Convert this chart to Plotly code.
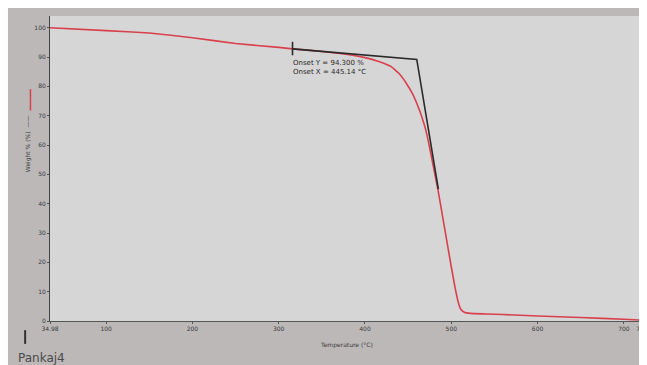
import plotly.graph_objects as go

# TGA curve
temp = [34.98, 100, 150, 200, 250, 300, 316, 350, 380, 400, 415, 430, 440, 448, 455, 461, 466,
        471, 476, 481, 485, 490, 495, 500, 504, 508, 511, 515, 522, 540, 560, 600, 650, 700, 721]
weight = [100, 99.0, 98.2, 96.6, 94.6, 93.3, 92.8, 91.9, 90.9, 89.8, 88.6, 86.8, 84.2, 81.0,
          77.5, 73.5, 69.5, 64.5, 57.5, 50.0, 44.0, 35.5, 27.0, 18.5, 12.0, 6.5, 4.0, 3.0, 2.6,
          2.4, 2.2, 1.7, 1.2, 0.6, 0.3]

# onset tangent construction
tan_x = [316, 460, 485]
tan_y = [92.8, 89.2, 45.0]
mark_x = [316, 316]
mark_y = [90.6, 95.2]

x_ticks = [34.98, 100, 200, 300, 400, 500, 600, 700, 721]
x_labels = ["34.98", "100", "200", "300", "400", "500", "600", "700", "720"]
y_ticks = [0, 10, 20, 30, 40, 50, 60, 70, 80, 90, 100]

onset_text = "Onset Y = 94.300 %<br>Onset X = 445.14 °C"

fig = go.Figure()
fig.add_trace(go.Scatter(x=temp, y=weight, mode="lines", line=dict(color="#d8404c", width=1.6, shape="spline", smoothing=0.3), hoverinfo="skip"))
fig.add_trace(go.Scatter(x=tan_x, y=tan_y, mode="lines", line=dict(color="#2a2a2a", width=1.6), hoverinfo="skip"))
fig.add_trace(go.Scatter(x=mark_x, y=mark_y, mode="lines", line=dict(color="#2a2a2a", width=1.6), hoverinfo="skip"))

fig.update_layout(
    width=647, height=365,
    margin=dict(l=42, r=7, t=8, b=52),
    paper_bgcolor="#bcb8b8",
    plot_bgcolor="#d7d6d6",
    showlegend=False,
    font=dict(family="DejaVu Sans", size=6, color="#3a3a3a"),
    xaxis=dict(range=[34.98, 721], tickvals=x_ticks, ticktext=x_labels, showgrid=False, zeroline=False,
               showline=True, linecolor="#555", linewidth=1, ticks="outside", ticklen=2, tickcolor="#555",
               tickfont=dict(size=6, color="#3a3a3a")),
    yaxis=dict(range=[0, 104], tickvals=y_ticks, showgrid=False, zeroline=False,
               showline=True, linecolor="#444", linewidth=1, ticks="outside", ticklen=2, tickcolor="#555",
               tickfont=dict(size=6, color="#3a3a3a")),
    annotations=[
        dict(x=314, y=86.5, xref="x", yref="y", text=onset_text, showarrow=False, xanchor="left", yanchor="middle",
             align="left", font=dict(size=7, color="#2a2a2a")),
        dict(x=0.50, y=-0.06, xref="paper", yref="paper", text="Temperature (°C)", showarrow=False,
             xanchor="center", yanchor="top", font=dict(size=6, color="#3a3a3a")),
        dict(x=-0.037, y=0.58, xref="paper", yref="paper", text="Weight % (%)  ——", textangle=-90, showarrow=False,
             xanchor="center", yanchor="middle", font=dict(size=6, color="#3a3a3a")),
        dict(x=-0.058, y=-0.122, xref="paper", yref="paper", text="Pankaj4", showarrow=False,
             xanchor="left", yanchor="middle", font=dict(size=12, color="#4a4a4a", family="DejaVu Sans")),
    ],
)
fig.add_shape(type="line", xref="paper", yref="paper", x0=-0.042, x1=-0.042, y0=-0.03, y1=-0.075,
              line=dict(color="#333", width=2))
fig.add_shape(type="line", xref="paper", yref="paper", x0=-0.033, x1=-0.033, y0=0.69, y1=0.76,
              line=dict(color="#d8404c", width=1.5))
fig.write_html("out.html")
